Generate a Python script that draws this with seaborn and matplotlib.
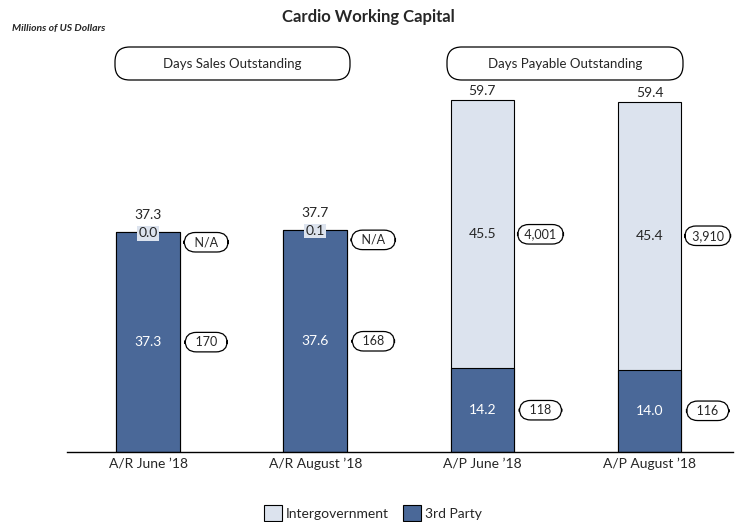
import matplotlib
matplotlib.use("Agg")
import matplotlib.pyplot as plt
import seaborn as sns
from matplotlib.patches import FancyBboxPatch, Patch

categories = ["A/R June \u201918", "A/R August \u201918", "A/P June \u201918", "A/P August \u201918"]
third_party = [37.3, 37.6, 14.2, 14.0]
intergov = [0.0, 0.1, 45.5, 45.4]
totals = [37.3, 37.7, 59.7, 59.4]
third_amt = ["170", "168", "118", "116"]
intergov_amt = ["N/A", "N/A", "4,001", "3,910"]
headers = ["Days Sales Outstanding", "Days Payable Outstanding"]

dark = "#4A6898"
light = "#DCE3EE"

sns.set_style("white")
plt.rcParams['font.family'] = ['Lato', 'DejaVu Sans']

fig = plt.figure(figsize=(7.36, 5.22), dpi=100)
ax = fig.add_axes([0.091, 0.134, 0.905, 0.77])

sns.barplot(x=categories, y=totals, color=light, width=0.38, edgecolor="black",
            linewidth=0.8, saturation=1, ax=ax)
sns.barplot(x=categories, y=third_party, color=dark, width=0.38, edgecolor="black",
            linewidth=0.8, saturation=1, ax=ax)

ax.set_xlim(-0.485, 3.5)
ax.set_ylim(0, 68.2)
ax.set_yticks([])
ax.set_ylabel("")
for s in ["top", "left", "right"]:
    ax.spines[s].set_visible(False)
ax.spines["bottom"].set_color("black")
ax.spines["bottom"].set_linewidth(1)
ax.tick_params(axis="x", length=0, labelsize=10, pad=4)

box = dict(boxstyle="round,pad=0.3,rounding_size=0.9", fc="white", ec="black", lw=0.9)
off = 0.348
for i in range(len(categories)):
    small = intergov[i] < 1
    # total above bar
    ax.annotate(f"{totals[i]:.1f}", (i, totals[i]), xytext=(0, 8 if small else 2),
                textcoords="offset points", ha="center", va="bottom", fontsize=10)
    # 3rd party value
    mid = third_party[i] / 2
    ax.text(i, mid, f"{third_party[i]:.1f}", ha="center", va="center", color="white", fontsize=10)
    ax.text(i + off, mid, f"  {third_amt[i]}  ", ha="center", va="center", fontsize=9, bbox=box)
    # intergovernment value
    if small:
        ax.text(i, totals[i] - 0.2, f"{intergov[i]:.1f}", ha="center", va="center", fontsize=10,
                bbox=dict(boxstyle="square,pad=0.1", fc=light, ec="none"))
        yb = totals[i] - 1.7
    else:
        yb = third_party[i] + intergov[i] / 2
        ax.text(i, yb, f"{intergov[i]:.1f}", ha="center", va="center", fontsize=10)
    lab = f"  {intergov_amt[i]}  " if len(intergov_amt[i]) < 4 else f" {intergov_amt[i]} "
    ax.text(i + off, yb, lab, ha="center", va="center", fontsize=9, bbox=box)

# header boxes
W, H = 736, 522
for (x0, x1), label in zip([(115, 350), (447, 683)], headers):
    p = FancyBboxPatch((x0 / W, 1 - 80 / H), (x1 - x0) / W, 33 / H,
                       boxstyle="round,pad=0,rounding_size=0.02", mutation_aspect=W / H,
                       transform=fig.transFigure, fc="white", ec="black", lw=0.9)
    fig.patches.append(p)
    fig.text((x0 + x1) / 2 / W, 1 - 63.5 / H, label, ha="center", va="center", fontsize=9.5)

fig.text(0.5, 1 - 17 / H, "Cardio Working Capital", ha="center", va="center",
         fontsize=12, fontweight="bold")
fig.text(12 / W, 1 - 28 / H, "Millions of US Dollars", ha="left", va="center",
         fontsize=7.5, fontweight="bold", fontstyle="italic")

handles = [Patch(fc=light, ec="black", lw=0.8), Patch(fc=dark, ec="black", lw=0.8)]
fig.legend(handles, ["Intergovernment", "3rd Party"], loc="center", bbox_to_anchor=(373 / W, 1 - 513 / H),
           ncol=2, frameon=False, fontsize=10, handlelength=1.3, handleheight=1.3,
           handletextpad=0.3, columnspacing=1.0)

fig.savefig("out.png", dpi=100)
